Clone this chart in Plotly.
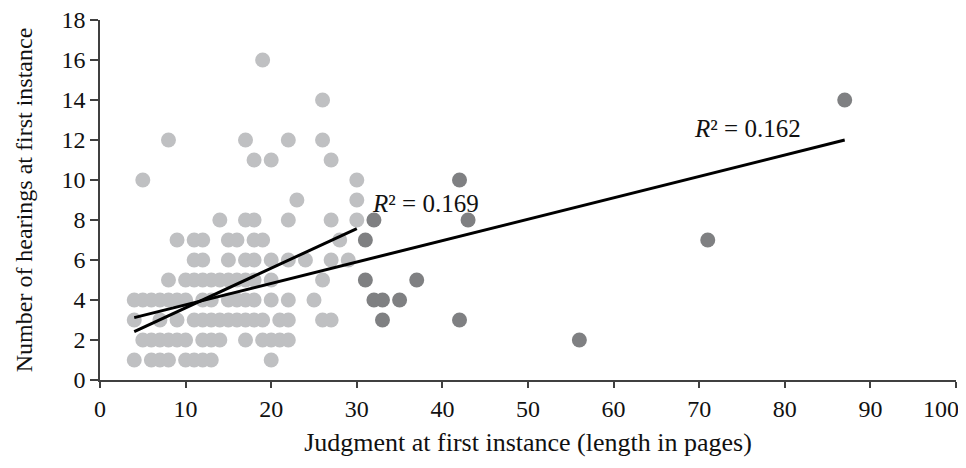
import numpy as np
import plotly.graph_objects as go

# Light-grey series (shorter judgments)
light_x = [4, 6, 7, 8, 10, 11, 12, 13, 20,
           5, 6, 7, 8, 9, 10, 12, 13, 14, 17, 19, 20, 21, 22,
           4, 7, 9, 11, 12, 13, 14, 15, 16, 17, 18, 19, 21, 22, 26, 27,
           4, 5, 6, 7, 8, 9, 10, 12, 13, 15, 16, 17, 18, 20, 22, 25,
           8, 10, 11, 12, 13, 14, 15, 16, 17, 18, 20, 26,
           11, 12, 15, 17, 18, 20, 22, 24, 27, 29,
           9, 11, 12, 15, 16, 18, 19, 28,
           14, 17, 18, 22, 27, 30,
           23, 30,
           5, 30,
           18, 20, 27,
           8, 17, 22, 26,
           26,
           19]
light_y = [1] * 9 + [2] * 14 + [3] * 16 + [4] * 16 + [5] * 12 + [6] * 10 + [7] * 8 + \
          [8] * 6 + [9] * 2 + [10] * 2 + [11] * 3 + [12] * 4 + [14] + [16]

# Dark-grey series (longer judgments)
dark_x = [33, 42, 32, 33, 35, 31, 37, 31, 71, 32, 43, 42, 56, 87]
dark_y = [3, 3, 4, 4, 4, 5, 5, 7, 7, 8, 8, 10, 2, 14]

# Trend lines: x span, slope, intercept, R² label
trend_light = dict(x=[4, 30], slope=0.198, intercept=1.63, label="0.169")
trend_all = dict(x=[4, 87], slope=0.107, intercept=2.69, label="0.162")

x_ticks = list(range(0, 101, 10))
x_tick_labels = [str(v) for v in x_ticks[:-1]] + ["100" + "\u00a0" * 5]
y_ticks = list(range(0, 19, 2))

LIGHT = "#bfc0c2"
DARK = "#7f8082"
FONT = "Liberation Serif, Times New Roman, serif"
TXT = "#111111"

fig = go.Figure()
fig.add_trace(go.Scatter(x=light_x, y=light_y, mode="markers",
                         marker=dict(color=LIGHT, size=15, line=dict(width=0)),
                         showlegend=False, hoverinfo="skip"))
fig.add_trace(go.Scatter(x=dark_x, y=dark_y, mode="markers",
                         marker=dict(color=DARK, size=15, line=dict(width=0)),
                         showlegend=False, hoverinfo="skip"))

for t in (trend_light, trend_all):
    xs = np.array(t["x"], dtype=float)
    ys = t["slope"] * xs + t["intercept"]
    fig.add_trace(go.Scatter(x=xs, y=ys, mode="lines",
                             line=dict(color="black", width=3),
                             showlegend=False, hoverinfo="skip"))

fig.add_annotation(x=31.5, y=8.85, xanchor="left", yanchor="middle",
                   text="<i>R</i>² = " + trend_light["label"], showarrow=False,
                   font=dict(family=FONT, size=25, color=TXT))
fig.add_annotation(x=69.2, y=12.6, xanchor="left", yanchor="middle",
                   text="<i>R</i>² = " + trend_all["label"], showarrow=False,
                   font=dict(family=FONT, size=25, color=TXT))

axis_common = dict(showgrid=False, zeroline=False, showline=True,
                   linecolor="#404040", linewidth=1.5, ticks="outside",
                   tickcolor="#404040", tickwidth=1.5, ticklabeloverflow="allow",
                   tickfont=dict(family=FONT, size=24, color=TXT))

fig.update_xaxes(range=[0, 100], tickvals=x_ticks, ticktext=x_tick_labels, ticklen=6,
                 title=dict(text="Judgment at first instance (length in pages)",
                            font=dict(family=FONT, size=26, color=TXT),
                            standoff=12),
                 **axis_common)
fig.update_yaxes(range=[0, 18], tickvals=y_ticks, ticklen=8,
                 title=dict(text="Number of hearings at first instance",
                            font=dict(family=FONT, size=24, color=TXT),
                            standoff=22),
                 **axis_common)

fig.update_layout(width=966, height=468,
                  margin=dict(l=92, r=18, t=12, b=96, autoexpand=False),
                  plot_bgcolor="white", paper_bgcolor="white")

fig.write_html("out.html")
